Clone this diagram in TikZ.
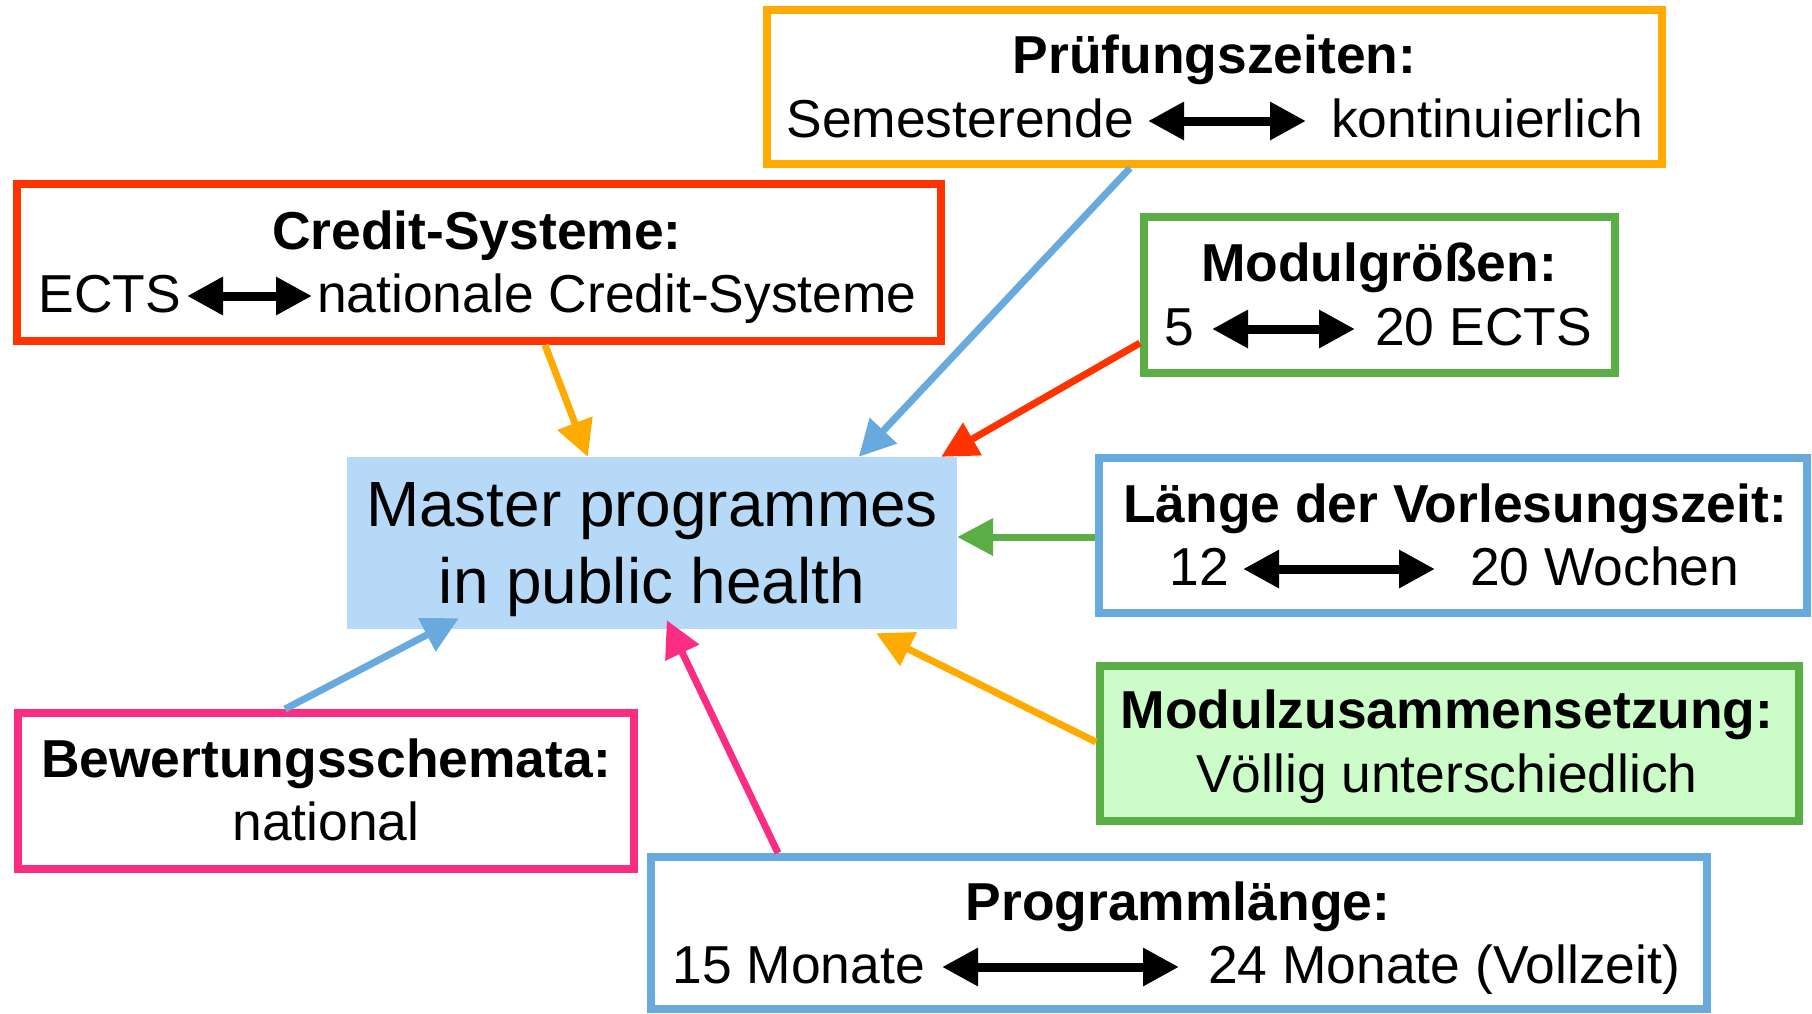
\documentclass[tikz,border=0pt]{standalone}
\usepackage{fontspec}
\setmainfont{Liberation Sans}
\usetikzlibrary{arrows.meta,calc}
\definecolor{cOrange}{HTML}{FFAA00}
\definecolor{cRed}{HTML}{FF3300}
\definecolor{cGreen}{HTML}{5BAD45}
\definecolor{cBlue}{HTML}{68AADD}
\definecolor{cPink}{HTML}{FA2D83}
\definecolor{cMaster}{HTML}{B5D9F7}
\definecolor{cLight}{HTML}{CCFDC8}
\tikzset{
  box/.style={draw=#1, line width=8pt, fill=white, inner sep=0pt},
  txt/.style={font=\fontsize{53.4}{64}\selectfont, inner sep=0pt, anchor=base},
  ttl/.style={font=\fontsize{53.4}{64}\selectfont\bfseries, inner sep=0pt, anchor=base},
  mtxt/.style={font=\fontsize{63.9}{77}\selectfont, inner sep=0pt, anchor=base},
  conn/.style={draw=#1, line width=7pt, -{Triangle[length=36pt,width=36pt]}},
  dbl/.style={draw=black, line width=9pt, {Triangle[length=36pt,width=36pt]}-{Triangle[length=36pt,width=36pt]}},
}
\begin{document}
\begin{tikzpicture}[x=1pt,y=-1pt]
\useasboundingbox[fill=white] (0,0) rectangle (1812,1013);

% central node
\node[fill=cMaster, draw=none, inner sep=0pt, minimum width=610pt, minimum height=172pt] (master) at (652,543) {};
\node[mtxt] (m1) at (652,526) {Master programmes};
\node[mtxt] (m2) at (652,603) {in public health};

% Pruefungszeiten
\node[box=cOrange, minimum width=895pt, minimum height=154pt] (pz) at (1214.5,87) {};
\node[ttl] (pzT) at (1214.5,73) {Prüfungszeiten:};
\node[txt, anchor=base east] (pzL) at (1134,137) {Semesterende};
\node[txt, anchor=base west] (pzR) at (1331,137) {kontinuierlich};
\draw[dbl] ([shift={(14pt,16pt)}]pzL.base east) -- ([shift={(-25pt,16pt)}]pzR.base west);

% Credit-Systeme
\node[box=cRed, minimum width=924pt, minimum height=157pt] (cs) at (479,262.5) {};
\node[ttl] (csT) at (477,249) {Credit-Systeme:};
\node[txt, anchor=base east] (csL) at (181,312) {ECTS};
\node[txt, anchor=base west] (csR) at (317,312) {nationale Credit-Systeme};
\draw[dbl] ([shift={(6pt,16pt)}]csL.base east) -- ([shift={(-5pt,16pt)}]csR.base west);

% Modulgroessen
\node[box=cGreen, minimum width=471pt, minimum height=156pt] (mg) at (1379.5,295) {};
\node[ttl] (mgT) at (1379,281) {Modulgrößen:};
\node[txt, anchor=base east] (mgL) at (1194,345) {5};
\node[txt, anchor=base west] (mgR) at (1375,345) {20 ECTS};
\draw[dbl] ([shift={(18pt,16pt)}]mgL.base east) -- ([shift={(-20pt,16pt)}]mgR.base west);

% Laenge der Vorlesungszeit
\node[box=cBlue, minimum width=708pt, minimum height=155pt] (lg) at (1453,535.5) {};
\node[ttl] (lgT) at (1455,522) {Länge der Vorlesungszeit:};
\node[txt, anchor=base east] (lgL) at (1229,585) {12};
\node[txt, anchor=base west] (lgR) at (1470,585) {20 Wochen};
\draw[dbl] ([shift={(14pt,16pt)}]lgL.base east) -- ([shift={(-35pt,16pt)}]lgR.base west);

% Modulzusammensetzung
\node[box=cGreen, fill=cLight, minimum width=699pt, minimum height=155pt] (mz) at (1449.5,743.5) {};
\node[ttl] (mzT) at (1447,728) {Modulzusammensetzung:};
\node[txt] (mzL) at (1447,792) {Völlig unterschiedlich};

% Bewertungsschemata
\node[box=cPink, minimum width=616pt, minimum height=156pt] (bew) at (326,791) {};
\node[ttl] (bewT) at (326,777) {Bewertungsschemata:};
\node[txt] (bewL) at (326,840) {national};

% Programmlaenge
\node[box=cBlue, minimum width=1056pt, minimum height=152pt] (prog) at (1179,933) {};
\node[ttl] (progT) at (1178,920) {Programmlänge:};
\node[txt, anchor=base east] (progL) at (925,983) {15 Monate};
\node[txt, anchor=base west] (progR) at (1208,983) {24 Monate (Vollzeit)};
\draw[dbl] ([shift={(17pt,16pt)}]progL.base east) -- ([shift={(-29pt,16pt)}]progR.base west);

% connectors
\draw[conn=cBlue]   ([xshift=367pt]pz.south west) -- ([xshift=512pt]master.north west);
\draw[conn=cOrange] ([xshift=532pt]cs.south west) -- ([xshift=241pt]master.north west);
\draw[conn=cRed]    ([yshift=-48pt]mg.west) -- ([xshift=-16pt]master.north east);
\draw[conn=cGreen]  ([yshift=-1.5pt]lg.west) -- ([yshift=6pt]master.east);
\draw[conn=cOrange] ([yshift=1.5pt]mz.west) -- ([shift={(-81pt,-4pt)}]master.south east);
\draw[conn=cPink]   ([xshift=131pt]prog.north west) -- ([shift={(320pt,9pt)}]master.south west);
\draw[conn=cBlue]   ([xshift=271pt]bew.north west) -- ([shift={(112pt,11pt)}]master.south west);
\end{tikzpicture}
\end{document}
